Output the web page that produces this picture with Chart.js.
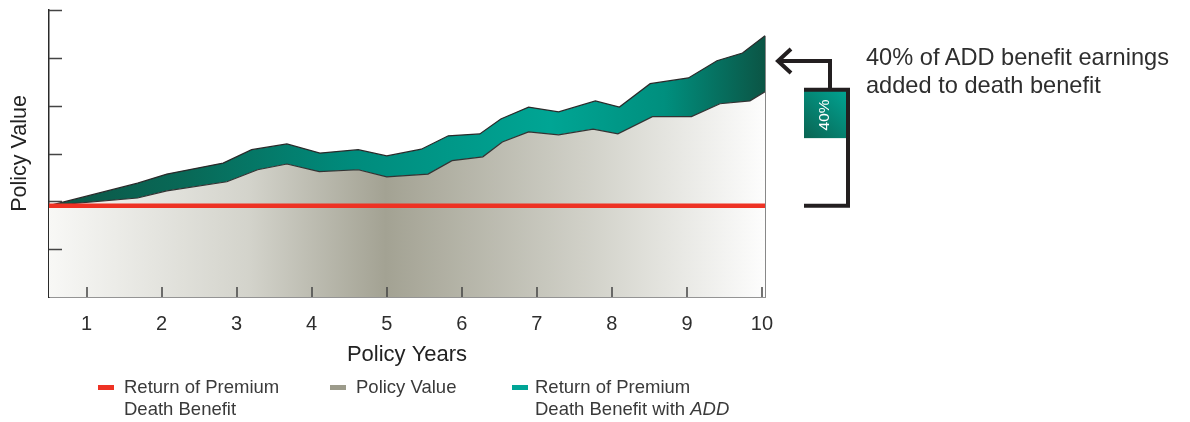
<!DOCTYPE html>
<html>
<head>
<meta charset="utf-8">
<script src="https://cdn.jsdelivr.net/npm/chart.js@4/dist/chart.umd.min.js"></script>
<style>
body{margin:0;background:#fff;font-family:"Liberation Sans",Arial,sans-serif;color:#333}
#wrap{position:relative;width:1190px;height:422px}
#note{position:absolute;left:866px;top:44px;font-size:23.6px;line-height:27.5px;color:#2e2e2e}
.item{position:absolute;top:376px;font-size:18.5px;line-height:22px;color:#3a3a3a}
.sw{position:absolute;width:16px;height:5px;top:9px}
</style>
</head>
<body>
<div id="wrap">
  <canvas id="myChart" width="1190" height="422"></canvas>
  <div id="note"></div>
</div>
<script>
// data
var yearTicks = [1, 2, 3, 4, 5, 6, 7, 8, 9, 10]
var yTickValues = [1, 2, 3, 4, 5, 6]
var premiumValue = 1.91
var premiumYears = [0.5, 10.04]

var policyYears  = [0.5, 1.68, 2.07, 2.87, 3.28, 3.67, 4.10, 4.62, 5.00, 5.55, 5.87, 6.28, 6.54, 6.89, 7.29, 7.75, 8.08, 8.54, 9.06, 9.44, 9.84, 10.04]
var policyValues = [1.91, 2.07, 2.22, 2.41, 2.66, 2.78, 2.62, 2.66, 2.51, 2.57, 2.85, 2.93, 3.24, 3.45, 3.39, 3.51, 3.41, 3.77, 3.77, 4.04, 4.10, 4.29]

var addYears  = [0.5, 1.68, 2.07, 2.82, 3.20, 3.67, 4.11, 4.62, 5.00, 5.46, 5.82, 6.24, 6.52, 6.89, 7.29, 7.78, 8.10, 8.51, 9.02, 9.40, 9.74, 10.04]
var addValues = [1.91, 2.38, 2.57, 2.80, 3.08, 3.20, 3.01, 3.08, 2.95, 3.09, 3.37, 3.41, 3.72, 3.97, 3.87, 4.10, 3.97, 4.46, 4.58, 4.94, 5.10, 5.46]

var seriesNames = [
  ['Return of Premium', 'Death Benefit'],
  ['Policy Value'],
  ['Return of Premium', 'Death Benefit with <i>ADD</i>']
]
var boxLabel = '40%'
var addShare = 0.4
var noteLines = ['40% of ADD benefit earnings', 'added to death benefit']

var red = '#ee3224'
var grayKey = '#9c9b8b'
var tealKey = '#00a596'
var font = '"Liberation Sans", Arial, sans-serif'

function pts(xs, ys) {
  return xs.map(function (v, i) { return {x: v, y: ys[i]} })
}

function grayFill(context) {
  const area = context.chart.chartArea
  if (!area) return grayKey
  const g = context.chart.ctx.createLinearGradient(area.left, 0, area.right, 0)
  g.addColorStop(0, '#f8f8f6')
  g.addColorStop(0.28, '#d3d3cb')
  g.addColorStop(0.47, '#a3a293')
  g.addColorStop(0.77, '#d4d4cc')
  g.addColorStop(1, '#fdfdfd')
  return g
}
function tealFill(context) {
  const area = context.chart.chartArea
  if (!area) return tealKey
  const g = context.chart.ctx.createLinearGradient(area.left, 0, area.right, 0)
  g.addColorStop(0, '#0d5646')
  g.addColorStop(0.2, '#086a58')
  g.addColorStop(0.42, '#008b7c')
  g.addColorStop(0.7, '#00a594')
  g.addColorStop(0.86, '#008f7e')
  g.addColorStop(1, '#0b5545')
  return g
}

// tick marks inside, right edge, bracket + arrow
const extras = {
  id: 'extras',
  afterDatasetsDraw(chart) {
    const ctx = chart.ctx
    const a = chart.chartArea
    const x = chart.scales.x, y = chart.scales.y
    ctx.save()
    ctx.strokeStyle = '#444'
    ctx.lineWidth = 1.5
    ctx.beginPath()
    yTickValues.forEach(function (v) {
      const py = Math.round(y.getPixelForValue(v)) + 0.5
      ctx.moveTo(a.left, py); ctx.lineTo(a.left + 13, py)
    })
    yearTicks.forEach(function (v) {
      const px = Math.round(x.getPixelForValue(v))
      ctx.moveTo(px, a.bottom); ctx.lineTo(px, a.bottom - 10)
    })
    ctx.stroke()

    const topEnd = y.getPixelForValue(addValues[addValues.length - 1])
    const lowEnd = y.getPixelForValue(policyValues[policyValues.length - 1])
    ctx.strokeStyle = '#888'
    ctx.lineWidth = 1
    ctx.beginPath()
    ctx.moveTo(a.right + 0.5, topEnd); ctx.lineTo(a.right + 0.5, a.bottom)
    ctx.stroke()

    const yTop = lowEnd - 2
    const yBot = y.getPixelForValue(premiumValue)
    const yArrow = topEnd + 0.45 * (lowEnd - topEnd)
    const bl = a.right + 39, br = a.right + 83, shaft = a.right + 65, tip = a.right + 13
    const boxH = (yBot - yTop) * addShare + 2

    const bg = ctx.createLinearGradient(bl, yTop + boxH, br, yTop)
    bg.addColorStop(0, '#0a6452')
    bg.addColorStop(1, '#00a594')
    ctx.fillStyle = bg
    ctx.fillRect(bl, yTop, br - bl, boxH)

    ctx.strokeStyle = '#231f20'
    ctx.lineWidth = 4
    ctx.lineJoin = 'miter'
    ctx.beginPath()
    ctx.moveTo(bl, yTop); ctx.lineTo(br, yTop); ctx.lineTo(br, yBot); ctx.lineTo(bl, yBot)
    ctx.stroke()
    ctx.beginPath()
    ctx.moveTo(shaft, yTop); ctx.lineTo(shaft, yArrow); ctx.lineTo(tip + 2, yArrow)
    ctx.stroke()
    ctx.beginPath()
    ctx.moveTo(tip + 13, yArrow - 12); ctx.lineTo(tip, yArrow); ctx.lineTo(tip + 13, yArrow + 12)
    ctx.stroke()

    ctx.translate((bl + br) / 2 - 1, yTop + boxH / 2 + 1)
    ctx.rotate(-Math.PI / 2)
    ctx.fillStyle = '#fff'
    ctx.font = '15.5px ' + font
    ctx.textAlign = 'center'
    ctx.textBaseline = 'middle'
    ctx.fillText(boxLabel, 0, 0)
    ctx.restore()
  }
}

const ctx = document.getElementById('myChart')
const char = new Chart(ctx, {
  type: 'line',
  data: {
    datasets: [{
      label: seriesNames[0].join(' '),
      data: pts(premiumYears, [premiumValue, premiumValue]),
      borderColor: red,
      borderWidth: 4.5,
      pointRadius: 0,
      fill: false,
      order: 0
    }, {
      label: seriesNames[2].join(' '),
      data: pts(addYears, addValues),
      borderColor: '#2a2a2a',
      borderWidth: 1.2,
      backgroundColor: tealFill,
      pointRadius: 0,
      tension: 0,
      fill: '+1',
      order: 2
    }, {
      label: seriesNames[1].join(' '),
      data: pts(policyYears, policyValues),
      borderColor: '#333',
      borderWidth: 1.2,
      backgroundColor: grayFill,
      pointRadius: 0,
      tension: 0,
      fill: 'origin',
      order: 1
    }]
  },
  options: {
    responsive: false,
    devicePixelRatio: 1,
    animation: false,
    layout: {padding: {top: 10, right: 425, left: 0, bottom: 0}},
    plugins: {legend: {display: false}, tooltip: {enabled: false}},
    scales: {
      x: {
        type: 'linear',
        min: 0.5,
        max: 10.04,
        afterBuildTicks: function (s) { s.ticks = yearTicks.map(function (v) { return {value: v} }) },
        afterFit: function (s) { s.height = 125 },
        grid: {display: false, drawTicks: false},
        border: {display: true, color: '#2a2a2a', width: 1.5},
        ticks: {color: '#2e2e2e', padding: 15, maxRotation: 0, font: {family: font, size: 20}},
        title: {display: true, text: 'Policy Years', color: '#222', padding: {top: 0, bottom: 54}, font: {family: font, size: 22}}
      },
      y: {
        min: 0,
        max: 6,
        afterFit: function (s) { s.width = 49 },
        grid: {display: false, drawTicks: false},
        border: {display: true, color: '#2a2a2a', width: 1.5},
        ticks: {display: false},
        title: {display: true, text: 'Policy Value', color: '#222', padding: {top: 7, bottom: 0}, font: {family: font, size: 21.5}}
      }
    }
  },
  plugins: [extras]
})

// note text
document.getElementById('note').innerHTML = noteLines.join('<br>')

// legend
var legendLeft = [98, 330, 512]
var legendGap = [26, 26, 23]
var legendColors = [red, grayKey, tealKey]
var wrap = document.getElementById('wrap')
for (var i = 0; i < seriesNames.length; i++) {
  var it = document.createElement('div')
  it.className = 'item'
  it.style.left = legendLeft[i] + 'px'
  var sw = document.createElement('div')
  sw.className = 'sw'
  sw.style.background = legendColors[i]
  it.appendChild(sw)
  var tx = document.createElement('div')
  tx.style.marginLeft = legendGap[i] + 'px'
  tx.innerHTML = seriesNames[i].join('<br>')
  it.appendChild(tx)
  wrap.appendChild(it)
}
</script>
</body>
</html>
